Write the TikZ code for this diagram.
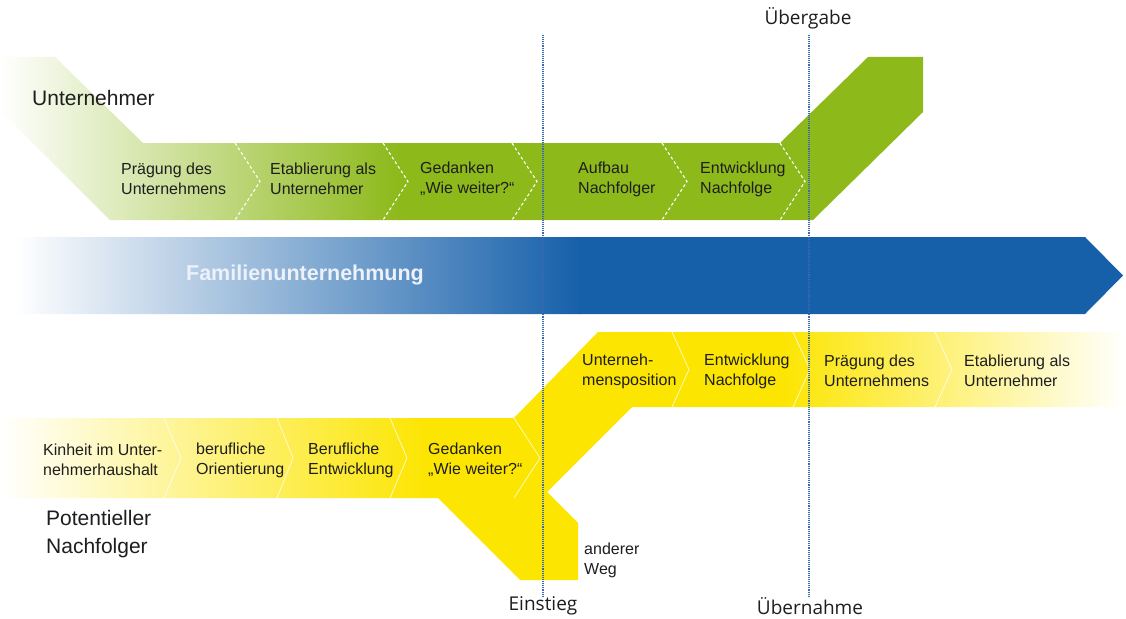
\documentclass[tikz,border=0pt]{standalone}
\usepackage{fontspec}
\setmainfont{Liberation Sans}
\newfontfamily\markfont{Open Sans}
\definecolor{ugreen}{RGB}{141,185,26}
\definecolor{ublue}{RGB}{22,96,170}
\definecolor{ubluemid}{RGB}{120,145,200}
\definecolor{uyellow}{RGB}{252,229,0}
\definecolor{txt}{RGB}{30,30,30}
\definecolor{vlinecol}{RGB}{55,105,180}
\newcommand\itemsize{\fontsize{16}{20}\selectfont}
\newcommand\bigsize{\fontsize{21}{28}\selectfont}
\newcommand\marksize{\fontsize{19}{22}\selectfont}
\begin{document}
\begin{tikzpicture}[x=1pt,y=-1pt,
  item/.style={anchor=west,align=left,font=\itemsize,text=txt,inner sep=0pt},
  biglabel/.style={anchor=west,align=left,font=\bigsize,text=txt,inner sep=0pt},
  marklabel/.style={font=\markfont\marksize,text=txt,inner sep=0pt},
  gsep/.style={white,dashed,dash pattern=on 3pt off 2.5pt,line width=1.1pt},
  ysep/.style={white,opacity=0.75,line width=0.8pt},
  vdot/.style={vlinecol,densely dotted,line width=1.1pt}]
\useasboundingbox (0,0) rectangle (1126,618);
\fill[white] (0,0) rectangle (1126,618);

% green band (Unternehmer)
\begin{scope}
\clip (0,57) -- (55,57) -- (143,143) -- (780,143) -- (868,57) -- (923,57) -- (923,112) -- (813,220) -- (110,220) -- (0,110) -- cycle;
\shade[left color=white,right color=ugreen] (0,50) rectangle (400,230);
\fill[ugreen] (399,50) rectangle (930,230);
\end{scope}
\foreach \x in {235,383,512,662,780}
  \draw[gsep] (\x,143) -- ({\x+25},181.5) -- (\x,220);

% blue band
\begin{scope}
\clip (15,237) -- (1085,237) -- (1123,275.5) -- (1085,314) -- (15,314) -- cycle;
\shade[left color=white,middle color=ubluemid,right color=ublue] (15,230) rectangle (580,320);
\fill[ublue] (579,230) rectangle (1130,320);
\end{scope}

% yellow band (Nachfolger)
\begin{scope}
\clip (0,418) -- (514,418) -- (598,332) -- (1126,332) -- (1126,407) -- (632,407) -- (547,492) -- (578,523) -- (578,580) -- (520,580) -- (438,498) -- (0,498) -- cycle;
\shade[left color=white,right color=uyellow] (0,325) rectangle (430,590);
\fill[uyellow] (429,325) rectangle (781,590);
\shade[left color=uyellow,right color=white] (780,325) rectangle (1126,590);
\end{scope}
\foreach \x/\d in {164/17,277/16,390/17,514/26}
  \draw[ysep] (\x,418) -- ({\x+\d},458) -- (\x,498);
\foreach \x in {672,793,935}
  \draw[ysep] (\x,332) -- ({\x+17},369.5) -- (\x,407);

% vertical dotted lines
\coordinate (einTop) at (543,35);
\coordinate (einBot) at (543,596);
\coordinate (uebTop) at (809,35);
\coordinate (uebBot) at (809,596);
\draw[vdot] (einTop) -- (einBot);
\draw[vdot] (uebTop) -- (uebBot);

% green texts
\node[item] (g1) at (121,179) {Prägung des\\Unternehmens};
\node[item] (g2) at (270,179) {Etablierung als\\Unternehmer};
\node[item] (g3) at (420,179) {Gedanken\\„Wie weiter?“};
\node[item] (g4) at (578,179) {Aufbau\\Nachfolger};
\node[item] (g5) at (700,179) {Entwicklung\\Nachfolge};

% blue text
\node[font=\bfseries\fontsize{21.5}{26}\selectfont,text={rgb,255:red,236;green,241;blue,250},inner sep=0pt] (fam) at (305,275) {Familienunternehmung};

% yellow texts
\node[item] (y1) at (43,460) {Kinheit im Unter-\\nehmerhaushalt};
\node[item] (y2) at (196,460) {berufliche\\Orientierung};
\node[item] (y3) at (308,460) {Berufliche\\Entwicklung};
\node[item] (y4) at (428,460) {Gedanken\\„Wie weiter?“};
\node[item] (u1) at (582,371) {Unterneh-\\mensposition};
\node[item] (u2) at (704,371) {Entwicklung\\Nachfolge};
\node[item] (u3) at (824,371) {Prägung des\\Unternehmens};
\node[item] (u4) at (964,371) {Etablierung als\\Unternehmer};

% labels
\node[biglabel] (unt) at (32,98) {Unternehmer};
\node[biglabel] (pot) at (46,534) {Potentieller\\Nachfolger};
\node[item] (anw) at (584,560) {anderer\\Weg};
\node[marklabel] (ueg) at (808,18) {Übergabe};
\node[marklabel] (ein) at (543,606) {Einstieg};
\node[marklabel] (uen) at (810,606) {Übernahme};
\end{tikzpicture}
\end{document}
